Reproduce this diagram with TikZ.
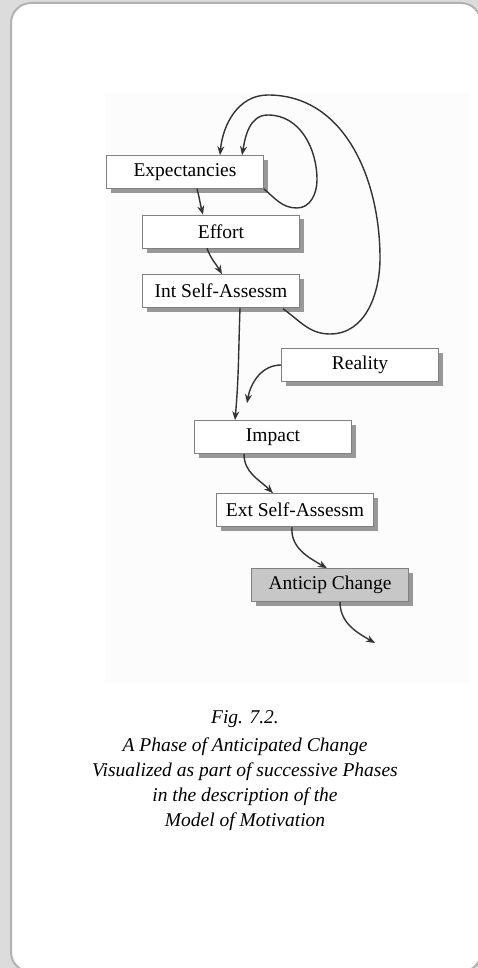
\documentclass[tikz,border=0pt]{standalone}
\usepackage{fontspec}
\setmainfont{Liberation Serif}
\usetikzlibrary{arrows.meta,shadows,positioning}
\definecolor{panelgray}{HTML}{DCDCDC}
\definecolor{rimgray}{HTML}{B2B2B2}
\begin{document}
\begin{tikzpicture}
        [x=1pt,y=1pt,
        box/.style ={draw=black!50,fill=white,line width=0.6pt,minimum width=157pt,minimum height=33pt,
          font=\fontsize{19.5}{22}\selectfont,
          drop shadow={shadow xshift=4.5pt,shadow yshift=-4.5pt,fill=black!50,opacity=0.8}},
        link/.style ={-{Stealth[length=9pt,width=7pt]},draw=black!80,line width=1.4pt},
        node distance=59.5pt]
        \useasboundingbox (0,0) rectangle (478,-968);
        \fill[panelgray] (0,0) rectangle (478,-968);
        \draw[rimgray,line width=2pt,fill=white,rounded corners=20pt] (11,-3) rectangle (481,-972);
        \fill[black!1] (105,-93) rectangle (470,-683);
        \node[box] (exp) at (185,-172){Expectancies};
        \node[box] (eff)[below of = exp,xshift=36pt]{Effort};
        \node[box] (isa)[below of = eff]{Int Self-Assessm};
        \node[box] (real) at (360,-365){Reality};
        \node[box] (imp) at (273,-437){Impact};
        \node[box] (esa) at (295,-510){Ext Self-Assessm};
        \node[box,fill=black!22] (chg) at (330,-585){Anticip Change};
        \coordinate (next) at (375,-643);
        \draw[link] ([xshift=12pt]exp.south) to [out=-75,in=105] ([xshift=-18pt]eff.north);
        \draw[link] ([xshift=-14pt]eff.south) to [out=-70,in=120] ([xshift=1pt]isa.north);
        \draw[link] ([xshift=19pt]isa.south) to [out=-92,in=85] ([xshift=-38pt]imp.north);
        \draw[link] (real.west) to [out=180,in=80] ([xshift=-26pt,yshift=17pt]imp.north);
        \draw[link] ([xshift=-29pt]imp.south) to [out=-90,in=135] ([xshift=-22pt]esa.north);
        \draw[link] ([xshift=-3pt]esa.south) to [out=-95,in=150] ([xshift=-3pt]chg.north);
        \draw[link] ([xshift=10pt]chg.south) to [out=-90,in=150] (next);
        \draw[link] (exp.south east) to [out=-40,in=180] (297,-208) to [out=0,in=-90] (317,-180)
          to [out=90,in=0] (268,-115) to [out=180,in=80] ([xshift=57pt]exp.north);
        \draw[link] ([xshift=62pt,yshift=-1pt]isa.south) to [out=-35,in=180] (330,-334) to [out=0,in=-90] (380,-258)
          to [out=90,in=0] (268,-95) to [out=180,in=85] ([xshift=35pt]exp.north);
        \node[align=center,font=\itshape\fontsize{19.5}{25}\selectfont] (cap) at (245,-771)
          {Fig. 7.2.\\[3pt]A Phase of Anticipated Change\\Visualized as part of successive Phases\\in the description of the\\Model of Motivation};
\end{tikzpicture}
\end{document}
